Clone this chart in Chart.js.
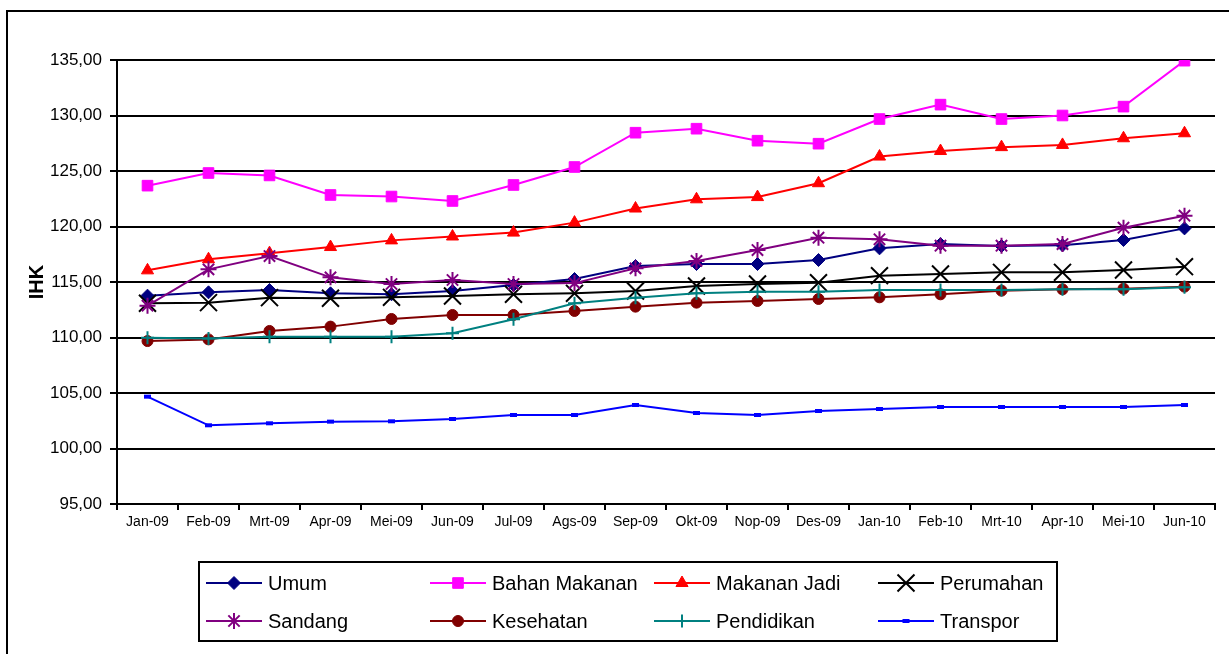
<!DOCTYPE html>
<html>
<head>
<meta charset="utf-8">
<script src="https://cdn.jsdelivr.net/npm/chart.js@4"></script>
<style>
  html, body { margin: 0; padding: 0; background: #fff; overflow: hidden; }
  #wrap { position: relative; width: 1229px; height: 654px; }
  #frame { position: absolute; left: 6px; top: 10px; width: 1300px; height: 700px; border: 2px solid #000; }
  #ihk { position: absolute; left: 0; top: 0; }
</style>
</head>
<body>
<div id="wrap">
  <div id="frame"></div>
  <canvas id="ihk" width="1229" height="654"></canvas>
</div>
<script>
const months = ['Jan-09', 'Feb-09', 'Mrt-09', 'Apr-09', 'Mei-09', 'Jun-09', 'Jul-09', 'Ags-09', 'Sep-09',
  'Okt-09', 'Nop-09', 'Des-09', 'Jan-10', 'Feb-10', 'Mrt-10', 'Apr-10', 'Mei-10', 'Jun-10'];

const umum = [113.77, 114.07, 114.28, 113.98, 113.89, 114.2, 114.73, 115.27, 116.44, 116.62, 116.62, 116.98, 118.03, 118.42, 118.24, 118.3, 118.78, 119.83];
const bahanMakanan = [123.68, 124.82, 124.6, 122.84, 122.7, 122.3, 123.74, 125.36, 128.45, 128.81, 127.73, 127.46, 129.68, 130.98, 129.68, 130.0, 130.8, 134.94];
const makananJadi = [116.05, 117.05, 117.6, 118.15, 118.75, 119.1, 119.45, 120.35, 121.62, 122.45, 122.65, 123.9, 126.3, 126.8, 127.15, 127.35, 127.95, 128.4];
const perumahan = [113.08, 113.14, 113.59, 113.53, 113.62, 113.74, 113.89, 113.98, 114.19, 114.64, 114.82, 114.94, 115.57, 115.72, 115.87, 115.87, 116.08, 116.38];
const sandang = [112.87, 116.14, 117.34, 115.42, 114.82, 115.18, 114.82, 114.9, 116.23, 116.9, 117.88, 118.99, 118.85, 118.27, 118.27, 118.42, 119.89, 120.97];
const kesehatan = [109.68, 109.83, 110.59, 110.98, 111.67, 112.03, 112.03, 112.39, 112.78, 113.14, 113.29, 113.47, 113.62, 113.89, 114.22, 114.34, 114.4, 114.58];
const pendidikan = [109.98, 109.92, 110.07, 110.07, 110.07, 110.38, 111.64, 113.08, 113.59, 113.98, 114.13, 114.13, 114.28, 114.28, 114.28, 114.34, 114.34, 114.52];
const transpor = [104.67, 102.09, 102.27, 102.42, 102.45, 102.66, 103.02, 103.02, 103.92, 103.2, 103.02, 103.38, 103.56, 103.74, 103.74, 103.74, 103.74, 103.92];

const seriesNames = ['Umum', 'Bahan Makanan', 'Makanan Jadi', 'Perumahan', 'Sandang', 'Kesehatan', 'Pendidikan', 'Transpor'];
const seriesData = [umum, bahanMakanan, makananJadi, perumahan, sandang, kesehatan, pendidikan, transpor];
const seriesColors = ['#000080', '#FF00FF', '#FF0000', '#000000', '#800080', '#800000', '#008080', '#0000FF'];
const seriesMarkers = ['rectRot', 'rect', 'triangle', 'crossRot', 'star', 'circle', 'cross', 'line'];
const markerSizes = [6.5, 7.5, 7, 12, 8, 5.5, 6.5, 3.5];
const markerBorders = [1, 1, 1, 2, 2, 1, 2, 4];

const FONT = "'Liberation Sans', Arial, sans-serif";

// legend drawn by hand: boxed 4x2 grid under the plot
const boxLegend = {
  id: 'boxLegend',
  afterDraw(chart) {
    const ctx = chart.ctx;
    ctx.save();
    ctx.strokeStyle = '#000';
    ctx.lineWidth = 2;
    ctx.strokeRect(199, 562, 858, 79);
    chart.data.datasets.forEach((ds, i) => {
      const x0 = 206 + (i % 4) * 224;
      const y = i < 4 ? 583 : 621;
      ctx.strokeStyle = ds.borderColor;
      ctx.lineWidth = 2;
      ctx.beginPath();
      ctx.moveTo(x0, y);
      ctx.lineTo(x0 + 56, y);
      ctx.stroke();
      ctx.fillStyle = ds.pointBackgroundColor;
      ctx.strokeStyle = ds.pointBorderColor;
      ctx.lineWidth = ds.pointBorderWidth;
      Chart.helpers.drawPoint(ctx, {
        pointStyle: ds.pointStyle,
        radius: ds.pointRadius,
        rotation: 0,
        borderWidth: ds.pointBorderWidth
      }, x0 + 28, y);
      ctx.fillStyle = '#000';
      ctx.font = '20px ' + FONT;
      ctx.textBaseline = 'middle';
      ctx.textAlign = 'left';
      ctx.fillText(ds.label, x0 + 62, y + 1);
    });
    ctx.restore();
  }
};

const datasets = seriesNames.map((name, i) => ({
  label: name,
  data: seriesData[i],
  borderColor: seriesColors[i],
  backgroundColor: seriesColors[i],
  borderWidth: 2,
  tension: 0,
  pointStyle: seriesMarkers[i],
  pointRadius: markerSizes[i],
  pointBackgroundColor: seriesColors[i],
  pointBorderColor: seriesColors[i],
  pointBorderWidth: markerBorders[i],
  order: seriesNames.length - i
}));

new Chart(document.getElementById('ihk').getContext('2d'), {
  type: 'line',
  data: { labels: months, datasets: datasets },
  options: {
    responsive: false,
    animation: false,
    layout: { padding: { left: 20, top: 60, right: 1, bottom: 120 } },
    plugins: {
      legend: { display: false },
      tooltip: { enabled: false }
    },
    scales: {
      x: {
        offset: true,
        afterFit: s => { s.height = 30; },
        grid: { offset: true, drawOnChartArea: false, drawTicks: true, tickLength: 6, color: '#000', lineWidth: 2 },
        border: { display: true, color: '#000', width: 2 },
        ticks: { color: '#000', padding: 4, maxRotation: 0, autoSkip: false, font: { family: FONT, size: 14 } }
      },
      y: {
        min: 95,
        max: 135,
        afterFit: s => { s.width = 97; },
        title: { display: true, text: 'IHK', color: '#000', padding: { top: 5, bottom: 0 }, font: { family: FONT, size: 20, weight: 'bold' } },
        grid: { color: '#000', lineWidth: 2, tickLength: 7 },
        border: { display: true, color: '#000', width: 2 },
        ticks: {
          stepSize: 5,
          color: '#000',
          padding: 8,
          font: { family: FONT, size: 17 },
          callback: v => v.toFixed(2).replace('.', ',')
        }
      }
    }
  },
  plugins: [boxLegend]
});
</script>
</body>
</html>
